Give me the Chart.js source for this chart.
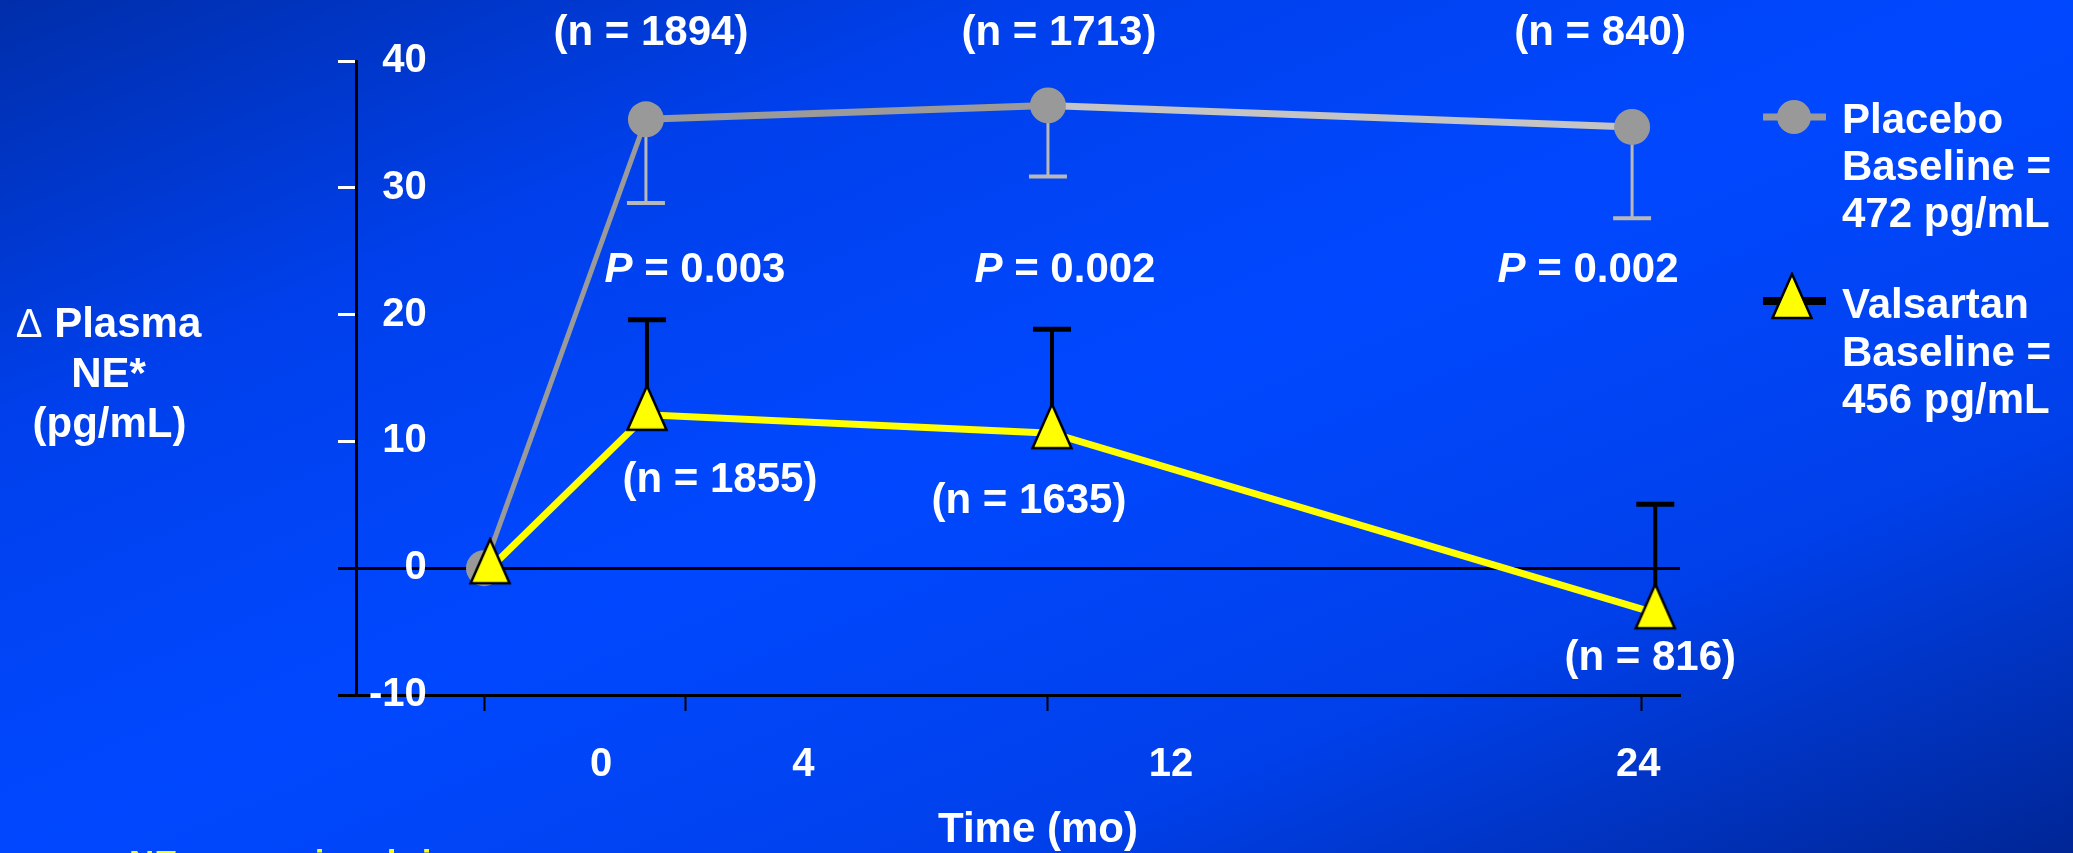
<!DOCTYPE html>
<html>
<head>
<meta charset="utf-8">
<script src="https://cdn.jsdelivr.net/npm/chart.js@4.4.1/dist/chart.umd.min.js"></script>
<style>
  html, body { margin: 0; padding: 0; background: #0046f8; overflow: hidden; }
  #wrap { width: 2073px; height: 853px; position: relative; }
  canvas { display: block; }
</style>
</head>
<body>
<div id="wrap"><canvas id="c" width="2073" height="853"></canvas></div>
<script>
// ---------------- DATA ----------------
const seriesNames = ['Placebo', 'Valsartan'];
const placeboX = [0.78, 3.99, 11.96, 23.54];
const placeboY = [0, 35.4, 36.5, 34.8];
const placeboSE = [0, 6.6, 5.6, 7.2];
const valsartanX = [0.9, 4.01, 12.04, 24.0];
const valsartanY = [0, 12.1, 10.65, -3.55];
const valsartanSE = [0, 7.5, 8.2, 8.6];
const placeboN = ['', '(n = 1894)', '(n = 1713)', '(n = 840)'];
const valsartanN = ['', '(n = 1855)', '(n = 1635)', '(n = 816)'];
const pValues = ['', '0.003', '0.002', '0.002'];
const xTickLabels = ['0', '4', '12', '24'];
const xTickMarkValues = [0.78, 4.78, 11.96, 23.72];
const xTickLabelValues = [3.10, 7.11, 14.40, 23.66];
const yTickValues = [-10, 0, 10, 20, 30, 40];
const yTickLabels = ['-10', '0', '10', '20', '30', '40'];
const yTitleLines = ['Plasma', 'NE*', '(pg/mL)'];
const yTitleSymbol = '\u0394';
const xTitle = 'Time (mo)';
const legendPlacebo = ['Placebo', 'Baseline =', '472 pg/mL'];
const legendValsartan = ['Valsartan', 'Baseline =', '456 pg/mL'];
const footnote = 'NE = norepinephrine';

// ---------------- STYLE / LAYOUT ----------------
const FONT = '"Liberation Sans", Arial, Helvetica, sans-serif';
Chart.defaults.font.family = FONT;
const X_MIN = -1.758, X_MAX = 24.49;

function makeTriangle() {
  const c = document.createElement('canvas');
  c.width = 44; c.height = 62;
  const g = c.getContext('2d');
  g.beginPath();
  g.moveTo(22, 2); g.lineTo(41.5, 46); g.lineTo(2.5, 46); g.closePath();
  g.fillStyle = '#ffff00'; g.fill();
  g.lineWidth = 2.5; g.strokeStyle = '#000'; g.lineJoin = 'miter'; g.stroke();
  return c;
}
const triImg = makeTriangle();

const bgPlugin = {
  id: 'bg',
  beforeDraw(chart) {
    const ctx = chart.ctx, W = chart.width, H = chart.height;
    const gx = 1 / (2 * W), gy = 1 / (2 * H);
    const g2 = gx * gx + gy * gy;
    const grad = ctx.createLinearGradient(0, 0, gx / g2, gy / g2);
    grad.addColorStop(0, 'rgb(0,46,170)');
    grad.addColorStop(0.25, 'rgb(0,64,236)');
    grad.addColorStop(0.5, 'rgb(0,72,255)');
    grad.addColorStop(0.75, 'rgb(0,64,234)');
    grad.addColorStop(1, 'rgb(0,38,150)');
    ctx.save();
    ctx.fillStyle = grad;
    ctx.fillRect(0, 0, W, H);
    ctx.restore();
  }
};

const errPlugin = {
  id: 'errbars',
  beforeDatasetsDraw(chart) {
    const ctx = chart.ctx, x = chart.scales.x, y = chart.scales.y;
    ctx.save();
    placeboX.forEach(function (xv, i) {
      if (!placeboSE[i]) return;
      const px = x.getPixelForValue(xv);
      const p0 = y.getPixelForValue(placeboY[i]);
      const p1 = y.getPixelForValue(placeboY[i] - placeboSE[i]);
      ctx.strokeStyle = '#b8b8b8';
      ctx.lineWidth = 3;
      ctx.beginPath(); ctx.moveTo(px, p0); ctx.lineTo(px, p1); ctx.stroke();
      ctx.lineWidth = 4;
      ctx.beginPath(); ctx.moveTo(px - 19, p1); ctx.lineTo(px + 19, p1); ctx.stroke();
    });
    valsartanX.forEach(function (xv, i) {
      if (!valsartanSE[i]) return;
      const px = x.getPixelForValue(xv);
      const p0 = y.getPixelForValue(valsartanY[i]);
      const p1 = y.getPixelForValue(valsartanY[i] + valsartanSE[i]);
      ctx.strokeStyle = '#000';
      ctx.lineWidth = 4;
      ctx.beginPath(); ctx.moveTo(px, p0); ctx.lineTo(px, p1); ctx.stroke();
      ctx.lineWidth = 5;
      ctx.beginPath(); ctx.moveTo(px - 19, p1); ctx.lineTo(px + 19, p1); ctx.stroke();
    });
    ctx.restore();
  }
};

function font(size, weight, style) {
  return (style || 'normal') + ' ' + (weight || 'bold') + ' ' + size + 'px ' + FONT;
}
function text(ctx, s, x, yb, opts) {
  opts = opts || {};
  ctx.font = font(opts.size || 42, opts.weight, opts.style);
  ctx.fillStyle = opts.color || '#ffffff';
  ctx.textAlign = opts.align || 'left';
  ctx.textBaseline = 'alphabetic';
  ctx.fillText(s, x, yb);
}

const placeboNDx = [0, 5, 11, -32];
const pDx = [0, 49, 17, -44];
const valsNDx = [0, 73, -23, -5];
const valsNDy = [0, 77, 80, 57];

const textPlugin = {
  id: 'texts',
  afterDraw(chart) {
    const ctx = chart.ctx, x = chart.scales.x, y = chart.scales.y;
    ctx.save();
    // y axis title
    ctx.font = font(40, 'normal');
    const wD = ctx.measureText(yTitleSymbol).width;
    ctx.font = font(42);
    const wP = ctx.measureText(' ' + yTitleLines[0]).width;
    const sx = 108.5 - (wD + wP) / 2;
    text(ctx, yTitleSymbol, sx, 337, { size: 40, weight: 'normal' });
    text(ctx, ' ' + yTitleLines[0], sx + wD, 337);
    text(ctx, yTitleLines[1], 108.5, 387, { align: 'center' });
    text(ctx, yTitleLines[2], 109.5, 437, { align: 'center' });

    for (let i = 1; i < placeboX.length; i++) {
      const px = x.getPixelForValue(placeboX[i]);
      text(ctx, placeboN[i], px + placeboNDx[i], 45, { align: 'center' });
      ctx.font = font(42, 'bold', 'italic');
      const w1 = ctx.measureText('P').width;
      ctx.font = font(42);
      const rest = ' = ' + pValues[i];
      const w2 = ctx.measureText(rest).width;
      const st = px + pDx[i] - (w1 + w2) / 2;
      text(ctx, 'P', st, 282, { style: 'italic' });
      text(ctx, rest, st + w1, 282);
      const vx = x.getPixelForValue(valsartanX[i]);
      const vy = y.getPixelForValue(valsartanY[i]);
      text(ctx, valsartanN[i], vx + valsNDx[i], vy + valsNDy[i], { align: 'center' });
    }

    // legend
    ctx.strokeStyle = '#999999'; ctx.lineWidth = 7;
    ctx.beginPath(); ctx.moveTo(1763, 117); ctx.lineTo(1826, 117); ctx.stroke();
    ctx.fillStyle = '#999999';
    ctx.beginPath(); ctx.arc(1794, 117, 17, 0, Math.PI * 2); ctx.fill();
    legendPlacebo.forEach(function (s, i) { text(ctx, s, 1842, 133 + i * 47); });
    ctx.strokeStyle = '#000'; ctx.lineWidth = 8;
    ctx.beginPath(); ctx.moveTo(1763, 301); ctx.lineTo(1826, 301); ctx.stroke();
    ctx.drawImage(triImg, 1792 - 22, 274 - 2);
    legendValsartan.forEach(function (s, i) { text(ctx, s, 1842, 318 + i * 47.5); });

    text(ctx, xTitle, 1038, 842, { align: 'center' });
    text(ctx, footnote, 129, 875, { size: 35, color: '#ffff00' });
    ctx.restore();
  }
};

function pts(xs, ys) { return xs.map(function (v, i) { return { x: v, y: ys[i] }; }); }

new Chart(document.getElementById('c'), {
  type: 'line',
  data: {
    datasets: [
      {
        label: seriesNames[0],
        data: pts(placeboX, placeboY),
        order: 2,
        borderColor: '#9a9a9a',
        borderWidth: 7,
        segment: {
          borderColor: function (c) { return c.p0DataIndex === 2 ? '#c4c4c4' : '#9a9a9a'; },
          borderWidth: function (c) { return c.p0DataIndex === 0 ? 5 : 7; }
        },
        pointStyle: 'circle',
        pointRadius: 18,
        pointBackgroundColor: '#999999',
        pointBorderWidth: 0,
        tension: 0,
        clip: false
      },
      {
        label: seriesNames[1],
        data: pts(valsartanX, valsartanY),
        order: 1,
        borderColor: '#ffff00',
        borderWidth: 7,
        pointStyle: triImg,
        pointRadius: 20,
        tension: 0,
        clip: false
      }
    ]
  },
  options: {
    responsive: false,
    animation: false,
    events: [],
    layout: { padding: { left: 338, right: 393, top: 61, bottom: 0 } },
    plugins: { legend: { display: false }, tooltip: { enabled: false }, title: { display: false } },
    scales: {
      x: {
        type: 'linear', position: 'bottom', weight: 0,
        min: X_MIN, max: X_MAX, bounds: 'data',
        afterBuildTicks: function (s) { s.ticks = xTickMarkValues.map(function (v) { return { value: v }; }); },
        afterFit: function (s) { s.height = 16; },
        ticks: { display: false },
        grid: { drawOnChartArea: false, drawTicks: true, tickLength: 16, tickWidth: 2, tickColor: '#000', color: '#000' },
        border: { display: true, color: '#000', width: 3 }
      },
      xLabels: {
        type: 'linear', position: 'bottom', weight: 1, axis: 'x',
        min: X_MIN, max: X_MAX, bounds: 'data',
        afterBuildTicks: function (s) { s.ticks = xTickLabelValues.map(function (v) { return { value: v }; }); },
        afterFit: function (s) { s.height = 142; },
        ticks: {
          callback: function (v, i) { return xTickLabels[i]; },
          font: { size: 40, weight: 'bold' }, color: '#ffffff',
          padding: 22, autoSkip: false, maxRotation: 0, minRotation: 0
        },
        grid: { display: false },
        border: { display: false }
      },
      y: {
        type: 'linear', position: 'left',
        min: -10, max: 40, bounds: 'data',
        afterBuildTicks: function (s) { s.ticks = yTickValues.map(function (v) { return { value: v }; }); },
        afterFit: function (s) { s.width = 18; },
        ticks: {
          callback: function (v, i) { return yTickLabels[i]; },
          mirror: true, crossAlign: 'far', padding: 13,
          font: { size: 40, weight: 'bold' }, color: '#ffffff'
        },
        grid: {
          drawOnChartArea: true, drawTicks: true, tickLength: 18, tickWidth: 3, lineWidth: 3,
          color: function (c) { return c.tick && c.tick.value === 0 ? '#000' : 'rgba(0,0,0,0)'; },
          tickColor: function (c) { return c.tick && c.tick.value > 0 ? '#ffffff' : '#000'; }
        },
        border: { display: true, color: '#000', width: 3 }
      }
    }
  },
  plugins: [bgPlugin, errPlugin, textPlugin]
});
</script>
</body>
</html>
